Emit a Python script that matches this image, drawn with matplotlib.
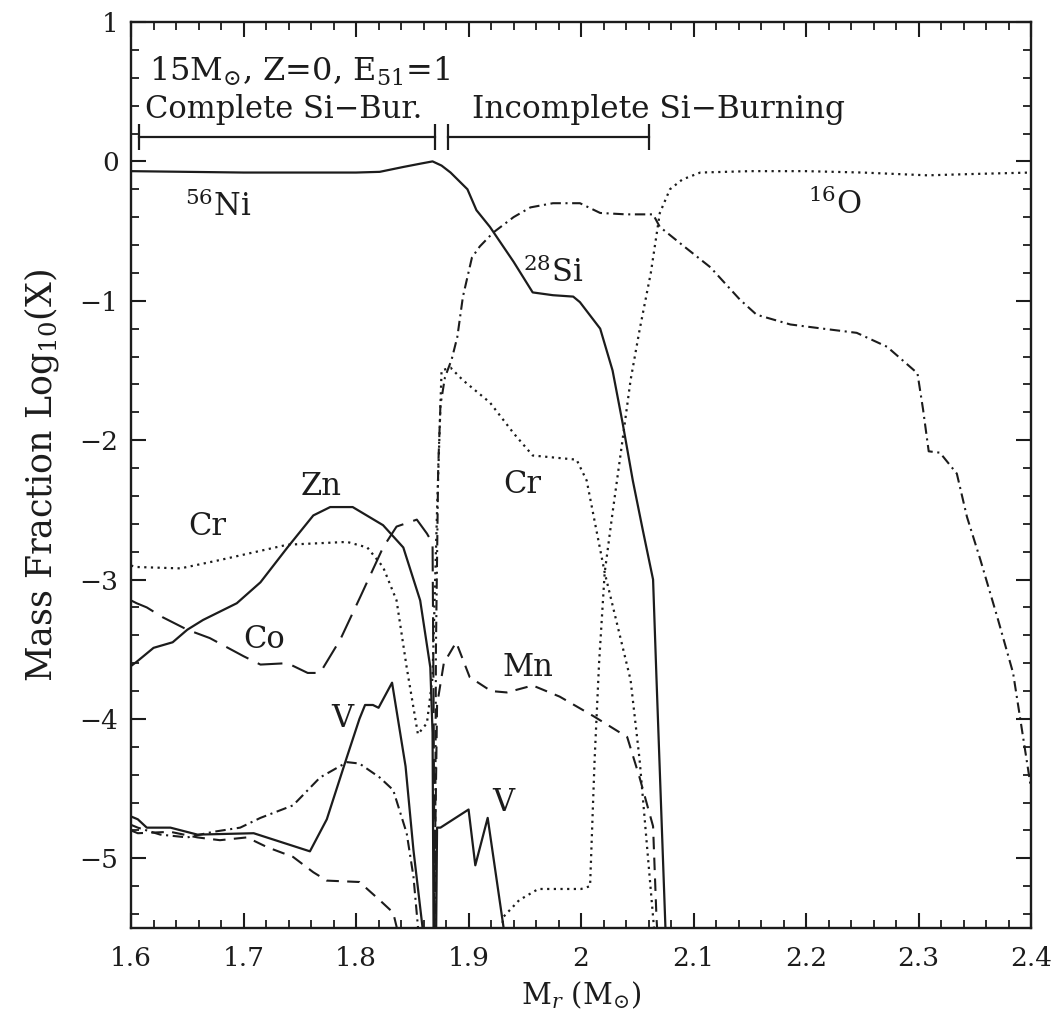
#!/usr/bin/env python
#
# Post-explosion abundance profile, 15 Msun, Z=0, E51=1
#
import numpy as np
import matplotlib.pyplot as plt
from matplotlib.ticker import MultipleLocator

plt.rcParams['font.family'] = 'DejaVu Serif'
plt.rcParams['mathtext.fontset'] = 'dejavuserif'

# mass coordinate M_r (Msun) and log10 mass fraction, read per species
ni56_m = [1.600, 1.650, 1.700, 1.750, 1.800, 1.821, 1.842, 1.858, 1.868, 1.876, 1.884,
          1.899, 1.907, 1.919, 1.940, 1.957, 1.975, 1.993, 1.999, 2.017, 2.028, 2.037,
          2.046, 2.055, 2.064, 2.067, 2.071, 2.075, 2.077]
ni56_x = [-0.07, -0.075, -0.08, -0.08, -0.08, -0.075, -0.04, -0.015, 0.0, -0.03, -0.08,
          -0.20, -0.35, -0.47, -0.72, -0.94, -0.96, -0.97, -1.01, -1.20, -1.50, -1.88,
          -2.29, -2.65, -3.00, -3.70, -4.60, -5.50, -5.70]

si28_m = [1.600, 1.606, 1.626, 1.650, 1.673, 1.697, 1.715, 1.744, 1.768, 1.792, 1.803,
          1.821, 1.833, 1.845, 1.851, 1.855, 1.857, 1.870, 1.871, 1.873, 1.875, 1.879,
          1.885, 1.890, 1.895, 1.903, 1.910, 1.922, 1.940, 1.955, 1.975, 1.999, 2.017,
          2.040, 2.064, 2.070, 2.090, 2.115, 2.141, 2.156, 2.186, 2.215, 2.245, 2.272,
          2.299, 2.304, 2.309, 2.319, 2.334, 2.343, 2.355, 2.370, 2.384, 2.390, 2.400]
si28_x = [-4.76, -4.78, -4.83, -4.85, -4.81, -4.78, -4.71, -4.62, -4.42, -4.31, -4.32,
          -4.42, -4.51, -4.82, -5.13, -5.49, -5.70, -5.70, -3.50, -2.20, -1.75, -1.55,
          -1.42, -1.26, -0.97, -0.69, -0.61, -0.51, -0.40, -0.33, -0.30, -0.30, -0.37,
          -0.38, -0.38, -0.47, -0.60, -0.76, -0.99, -1.10, -1.17, -1.20, -1.23, -1.33,
          -1.52, -1.78, -2.08, -2.09, -2.24, -2.55, -2.86, -3.27, -3.67, -3.98, -4.50]

o16_m = [1.926, 1.931, 1.945, 1.962, 2.000, 2.008, 2.012, 2.016, 2.021, 2.028, 2.036,
         2.044, 2.052, 2.062, 2.070, 2.079, 2.090, 2.106, 2.150, 2.200, 2.250, 2.308,
         2.350, 2.400]
o16_x = [-5.70, -5.42, -5.30, -5.22, -5.22, -5.20, -4.30, -3.60, -2.95, -2.52, -2.05,
         -1.57, -1.21, -0.80, -0.37, -0.20, -0.13, -0.08, -0.07, -0.07, -0.08, -0.10,
         -0.09, -0.08]

cr_m = [1.600, 1.605, 1.644, 1.679, 1.739, 1.792, 1.810, 1.824, 1.836, 1.845, 1.855,
        1.863, 1.868, 1.872, 1.876, 1.884, 1.895, 1.919, 1.940, 1.957, 1.996, 2.005,
        2.021, 2.044, 2.052, 2.064, 2.067]
cr_x = [-2.90, -2.91, -2.92, -2.86, -2.75, -2.73, -2.77, -2.91, -3.15, -3.63, -4.11,
        -4.03, -3.70, -2.50, -1.50, -1.48, -1.57, -1.73, -1.95, -2.11, -2.14, -2.29,
        -2.95, -3.72, -4.29, -5.42, -5.70]

zn_m = [1.600, 1.605, 1.620, 1.637, 1.650, 1.664, 1.694, 1.715, 1.739, 1.762, 1.777,
        1.797, 1.824, 1.842, 1.857, 1.866, 1.868, 1.869]
zn_x = [-3.62, -3.59, -3.49, -3.45, -3.36, -3.29, -3.17, -3.02, -2.77, -2.54, -2.48,
        -2.48, -2.61, -2.77, -3.15, -3.63, -4.10, -5.70]

co_m = [1.600, 1.605, 1.614, 1.628, 1.650, 1.670, 1.700, 1.715, 1.739, 1.757, 1.768,
        1.786, 1.804, 1.824, 1.836, 1.854, 1.863, 1.868, 1.869, 1.870]
co_x = [-3.15, -3.17, -3.20, -3.27, -3.36, -3.42, -3.55, -3.61, -3.60, -3.67, -3.67,
        -3.43, -3.12, -2.77, -2.62, -2.57, -2.67, -2.74, -4.00, -5.70]

mn_m = [1.600, 1.606, 1.635, 1.659, 1.679, 1.703, 1.721, 1.744, 1.762, 1.774, 1.803,
        1.821, 1.833, 1.836, 1.838, 1.869, 1.872, 1.878, 1.889, 1.901, 1.920, 1.934,
        1.957, 1.981, 2.011, 2.041, 2.052, 2.064, 2.067, 2.069]
mn_x = [-4.80, -4.82, -4.81, -4.85, -4.87, -4.85, -4.92, -4.99, -5.10, -5.16, -5.17,
        -5.30, -5.39, -5.49, -5.70, -5.70, -3.90, -3.60, -3.45, -3.70, -3.80, -3.81,
        -3.76, -3.84, -3.98, -4.13, -4.42, -4.77, -5.42, -5.70]

v_m = [1.600, 1.606, 1.614, 1.635, 1.659, 1.709, 1.759, 1.774, 1.792, 1.803, 1.808,
       1.815, 1.820, 1.832, 1.844, 1.851, 1.859, 1.861, 1.871, 1.872, 1.875, 1.900,
       1.906, 1.917, 1.931, 1.933]
v_x = [-4.70, -4.72, -4.78, -4.78, -4.83, -4.82, -4.95, -4.72, -4.27, -4.00, -3.90,
       -3.90, -3.92, -3.74, -4.34, -4.94, -5.49, -5.70, -5.70, -4.78, -4.78, -4.65,
       -5.05, -4.71, -5.49, -5.70]

# burning regions (Msun)
complete_si = (1.607, 1.870)
incomplete_si = (1.882, 2.060)

ink = '#1c1c1c'
dotted = (0, (1.0, 2.0))
dashdot = (0, (5.0, 2.2, 1.0, 2.2))
longdash = (0, (12.0, 5.0))
shortdash = (0, (6.0, 4.0))

fig = plt.figure(figsize=(10.56, 10.19), dpi=100)
ax = fig.add_axes([0.1241, 0.0893, 0.8523, 0.8891])

ax.plot(ni56_m, ni56_x, color=ink, lw=1.6, ls='-')
ax.plot(zn_m, zn_x, color=ink, lw=1.6, ls='-')
ax.plot(v_m, v_x, color=ink, lw=1.6, ls='-')
ax.plot(si28_m, si28_x, color=ink, lw=1.5, ls=dashdot)
ax.plot(o16_m, o16_x, color=ink, lw=1.6, ls=dotted)
ax.plot(cr_m, cr_x, color=ink, lw=1.6, ls=dotted)
ax.plot(co_m, co_x, color=ink, lw=1.5, ls=longdash)
ax.plot(mn_m, mn_x, color=ink, lw=1.5, ls=shortdash)

ax.set_xlim(1.6, 2.4)
ax.set_ylim(-5.5, 1.0)

# region brackets
ybar, cap = 0.175, 0.09
for lo, hi in (complete_si, incomplete_si):
    ax.plot([lo, hi], [ybar, ybar], color=ink, lw=1.6)
    ax.vlines([lo, hi], ybar - cap, ybar + cap, color=ink, lw=1.6)

ax.text(1.616, 0.58, r'15M$_{\odot}$, Z=0, E$_{51}$=1', fontsize=23, color=ink)
ax.text(1.612, 0.31, 'Complete Si\u2212Bur.', fontsize=22, color=ink)
ax.text(1.903, 0.31, 'Incomplete Si\u2212Burning', fontsize=22.5, color=ink)

# species labels
lab = dict(fontsize=22, color=ink, ha='center', va='center')
ax.text(1.677, -0.33, r'$^{56}$Ni', **lab)
ax.text(1.975, -0.80, r'$^{28}$Si', **lab)
ax.text(2.226, -0.31, r'$^{16}$O', **lab)
ax.text(1.668, -2.62, 'Cr', **lab)
ax.text(1.769, -2.33, 'Zn', **lab)
ax.text(1.718, -3.43, 'Co', **lab)
ax.text(1.788, -4.00, 'V', **lab)
ax.text(1.948, -2.32, 'Cr', **lab)
ax.text(1.953, -3.63, 'Mn', **lab)
ax.text(1.931, -4.60, 'V', **lab)

ax.xaxis.set_major_locator(MultipleLocator(0.1))
ax.xaxis.set_minor_locator(MultipleLocator(0.02))
ax.yaxis.set_major_locator(MultipleLocator(1))
ax.yaxis.set_minor_locator(MultipleLocator(0.2))
ax.xaxis.set_major_formatter(plt.FuncFormatter(lambda v, p: ('%.1f' % v).rstrip('0').rstrip('.')))
ax.tick_params(which='both', direction='in', top=True, right=True, color=ink,
               labelsize=19, labelcolor=ink)
ax.tick_params(which='major', length=11, width=1.5)
ax.tick_params(axis='x', which='major', pad=13)
ax.tick_params(axis='y', which='major', pad=9)
ax.tick_params(which='minor', length=6, width=1.3)
for s in ax.spines.values():
    s.set_linewidth(1.7)
    s.set_color(ink)

ax.set_xlabel(r'M$_r$ (M$_{\odot}$)', fontsize=21, color=ink)
ax.set_ylabel(r'Mass Fraction Log$_{10}$(X)', fontsize=25, color=ink)
ax.xaxis.set_label_coords(0.5, -0.057)
ax.yaxis.set_label_coords(-0.078, 0.5)

fig.savefig('out.png', dpi=100)
